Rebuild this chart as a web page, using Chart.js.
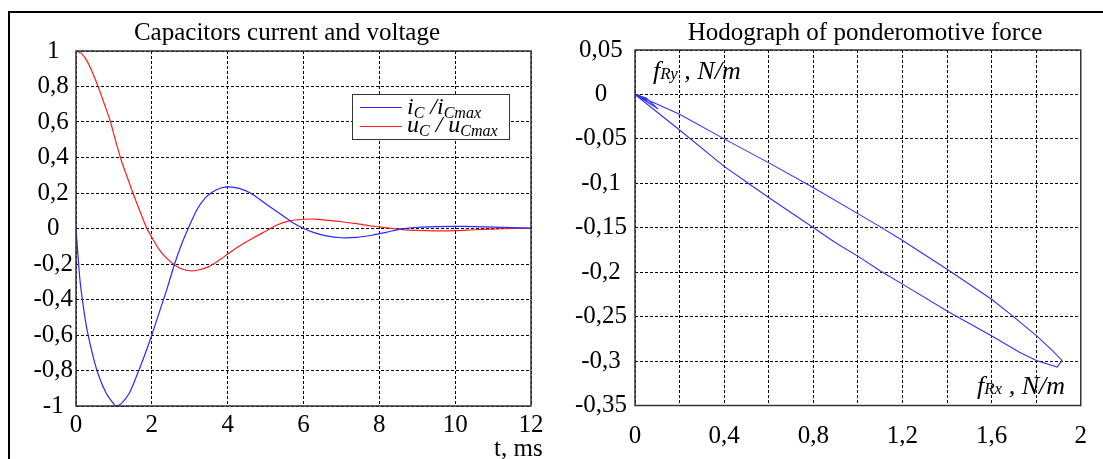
<!DOCTYPE html>
<html>
<head>
<meta charset="utf-8">
<script src="https://cdn.jsdelivr.net/npm/chart.js@4/dist/chart.umd.min.js"></script>
<style>
    html, body { margin: 0; padding: 0; background: #fff; }
    body { width: 1103px; height: 459px; position: relative; overflow: hidden; font-family: 'Liberation Serif', 'Times New Roman', serif; color: #000; }
    .box { position: absolute; }
    .rule { position: absolute; background: #000; }
    .title { position: absolute; font-size: 25px; line-height: 25px; white-space: nowrap; transform: translateX(-50%); }
    .lbl { position: absolute; white-space: nowrap; }
    .it { font-style: italic; }
    .legend { position: absolute; left: 352px; top: 94px; width: 156px; height: 44px; border: 1px solid #333; background: #fff; }
    .legend .swatch { position: absolute; left: 7px; width: 42px; height: 0; border-top: 1.2px solid; }
    .legend .txt { position: absolute; left: 54px; font-size: 24px; line-height: 24px; font-style: italic; white-space: nowrap; }
    sub { font-size: 16px; line-height: 0; vertical-align: -4px; }
</style>
</head>
<body>
<div class="rule" style="left:8px;top:11px;width:1095px;height:2px;"></div>
<div class="rule" style="left:8px;top:11px;width:2px;height:448px;"></div>

<div class="box" style="left:0;top:0;width:560px;height:459px;"><canvas id="waveChart" width="560" height="459"></canvas></div>
<div class="box" style="left:560px;top:0;width:543px;height:459px;"><canvas id="hodoChart" width="543" height="459"></canvas></div>

<div class="title" style="left:287px;top:19px;">Capacitors current and voltage</div>
<div class="title" style="left:865px;top:19px;">Hodograph of ponderomotive force</div>

<div class="legend">
    <div class="swatch" style="top:12px;border-color:rgb(40,40,255);"></div>
    <div class="txt" style="top:-1px;">i<sub>C</sub> /i<sub>Cmax</sub></div>
    <div class="swatch" style="top:31px;border-color:rgb(255,30,30);"></div>
    <div class="txt" style="top:17px;">u<sub>C</sub> / u<sub>Cmax</sub></div>
</div>

<div class="lbl" style="left:494px;top:435px;font-size:25px;line-height:25px;">t, ms</div>
<div class="lbl it" style="left:653px;top:58px;font-size:26px;line-height:26px;">f<span style="font-size:17px;">Ry</span> , N/m</div>
<div class="lbl it" style="left:977px;top:373px;font-size:26px;line-height:26px;">f<span style="font-size:17px;">Rx</span> , N/m</div>

<script>
// capacitor current i_C/i_Cmax
const currentTime = [0, 0.1, 0.2, 0.3, 0.45, 0.6, 0.8, 1.0, 1.05, 1.2, 1.4, 1.6, 1.8, 2.0, 2.2, 2.4, 2.6, 2.8, 3.0, 3.2, 3.4, 3.6, 3.8, 4.05, 4.3, 4.6, 5.0, 5.4, 5.7, 6.0, 6.3, 6.6, 7.0, 7.4, 7.8, 8.2, 8.6, 9.0, 9.5, 10.0, 10.5, 11.0, 11.5, 12.0];
const currentValue = [0, -0.28, -0.45, -0.58, -0.72, -0.83, -0.93, -0.99, -1.0, -0.985, -0.93, -0.83, -0.72, -0.60, -0.47, -0.34, -0.20, -0.08, 0.02, 0.11, 0.17, 0.205, 0.227, 0.235, 0.226, 0.20, 0.14, 0.08, 0.035, 0.0, -0.025, -0.042, -0.052, -0.05, -0.038, -0.02, -0.002, 0.007, 0.011, 0.012, 0.011, 0.008, 0.005, 0.002];

// capacitor voltage u_C/u_Cmax
const voltageTime = [0, 0.15, 0.3, 0.45, 0.6, 0.75, 0.9, 1.05, 1.2, 1.35, 1.5, 1.7, 1.87, 2.0, 2.2, 2.4, 2.6, 2.8, 3.0, 3.2, 3.5, 3.8, 4.0, 4.3, 4.7, 5.0, 5.3, 5.6, 6.0, 6.3, 6.6, 7.0, 7.4, 7.8, 8.2, 8.6, 9.0, 9.5, 10.0, 10.5, 11.0, 11.5, 12.0];
const voltageValue = [1.0, 0.985, 0.94, 0.87, 0.79, 0.70, 0.607, 0.49, 0.38, 0.29, 0.20, 0.09, 0.0, -0.05, -0.12, -0.17, -0.205, -0.228, -0.238, -0.235, -0.215, -0.175, -0.144, -0.10, -0.05, -0.015, 0.02, 0.042, 0.052, 0.053, 0.047, 0.038, 0.027, 0.014, 0.003, -0.006, -0.011, -0.013, -0.012, -0.007, -0.003, 0.0, 0.001];

// hodograph f_Rx / f_Ry, N/m (small loops at origin, lower branch out, upper branch back)
const forceX = [0, 0.06, 0.104, 0.05, 0, 0.03, 0.07, 0.02, 0, 0.1, 0.2, 0.4, 0.508, 0.603, 0.801, 0.9, 1.003, 1.101, 1.204, 1.402, 1.603, 1.725, 1.801, 1.894, 1.916, 1.872, 1.801, 1.688, 1.603, 1.402, 1.204, 1.101, 0.992, 0.801, 0.603, 0.4, 0.2, 0.09, 0];
const forceY = [0, -0.009, -0.0165, -0.004, 0, -0.004, -0.011, -0.001, 0, -0.02, -0.04, -0.081, -0.1, -0.1165, -0.15, -0.1668, -0.1825, -0.1986, -0.214, -0.244, -0.272, -0.29, -0.2993, -0.3067, -0.2993, -0.288, -0.2714, -0.248, -0.231, -0.197, -0.165, -0.149, -0.133, -0.105, -0.0773, -0.05, -0.0224, -0.01, 0];

const FONT = "'Liberation Serif', 'Times New Roman', serif";

function commaLabel(v) {
    return String(Number(v.toFixed(2))).replace('.', ',');
}

function toPoints(xs, ys) {
    return xs.map((x, i) => ({ x, y: ys[i] }));
}

// full box around the plot area, like the original figure
const frameBox = {
    id: 'frameBox',
    afterDraw(chart) {
        const { ctx, chartArea: a } = chart;
        ctx.save();
        ctx.strokeStyle = '#333';
        ctx.lineWidth = 1.5;
        ctx.setLineDash([]);
        ctx.strokeRect(a.left, a.top, a.right - a.left, a.bottom - a.top);
        ctx.restore();
    }
};

function gridAxis(extra) {
    return Object.assign({
        type: 'linear',
        grid: { color: '#000', lineWidth: 1, drawTicks: false },
        border: { display: false, dash: [3, 2] },
    }, extra);
}

new Chart(document.getElementById('waveChart'), {
    type: 'line',
    data: {
        datasets: [
            { label: 'iC/iCmax', data: toPoints(currentTime, currentValue), borderColor: 'rgb(40,40,255)', borderWidth: 1.2, pointRadius: 0, tension: 0.3 },
            { label: 'uC/uCmax', data: toPoints(voltageTime, voltageValue), borderColor: 'rgb(255,30,30)', borderWidth: 1.2, pointRadius: 0, tension: 0.3 }
        ]
    },
    options: {
        responsive: false,
        animation: false,
        layout: { padding: { left: 0, top: 51, right: 29, bottom: 0 } },
        plugins: { legend: { display: false }, tooltip: { enabled: false } },
        scales: {
            x: gridAxis({
                min: 0, max: 12,
                afterFit: s => { s.height = 53; },
                ticks: { stepSize: 2, autoSkip: false, maxRotation: 0, padding: 4, color: '#000', font: { family: FONT, size: 25 }, callback: v => commaLabel(v) }
            }),
            y: gridAxis({
                min: -1, max: 1,
                afterFit: s => { s.width = 76; },
                ticks: { stepSize: 0.2, crossAlign: 'center', padding: 3, color: '#000', font: { family: FONT, size: 25 }, callback: v => commaLabel(v) }
            })
        }
    },
    plugins: [frameBox]
});

new Chart(document.getElementById('hodoChart'), {
    type: 'line',
    data: {
        datasets: [
            { label: 'fR', data: toPoints(forceX, forceY), borderColor: 'rgb(50,50,255)', borderWidth: 1.1, pointRadius: 0, tension: 0 }
        ]
    },
    options: {
        responsive: false,
        animation: false,
        layout: { padding: { left: 0, top: 50, right: 13.5, bottom: 0 } },
        plugins: { legend: { display: false }, tooltip: { enabled: false } },
        scales: {
            x: gridAxis({
                min: 0, max: 2,
                afterFit: s => { s.height = 53.5; },
                ticks: {
                    stepSize: 0.2, autoSkip: false, maxRotation: 0, padding: 16, color: '#000', font: { family: FONT, size: 25 },
                    callback: v => (Math.round(v * 10) % 4 === 0 ? commaLabel(v) : '')
                }
            }),
            y: gridAxis({
                min: -0.35, max: 0.05,
                afterFit: s => { s.width = 75; },
                ticks: { stepSize: 0.05, crossAlign: 'center', padding: 8, color: '#000', font: { family: FONT, size: 25 }, callback: v => commaLabel(v) }
            })
        }
    },
    plugins: [frameBox]
});
</script>
</body>
</html>
